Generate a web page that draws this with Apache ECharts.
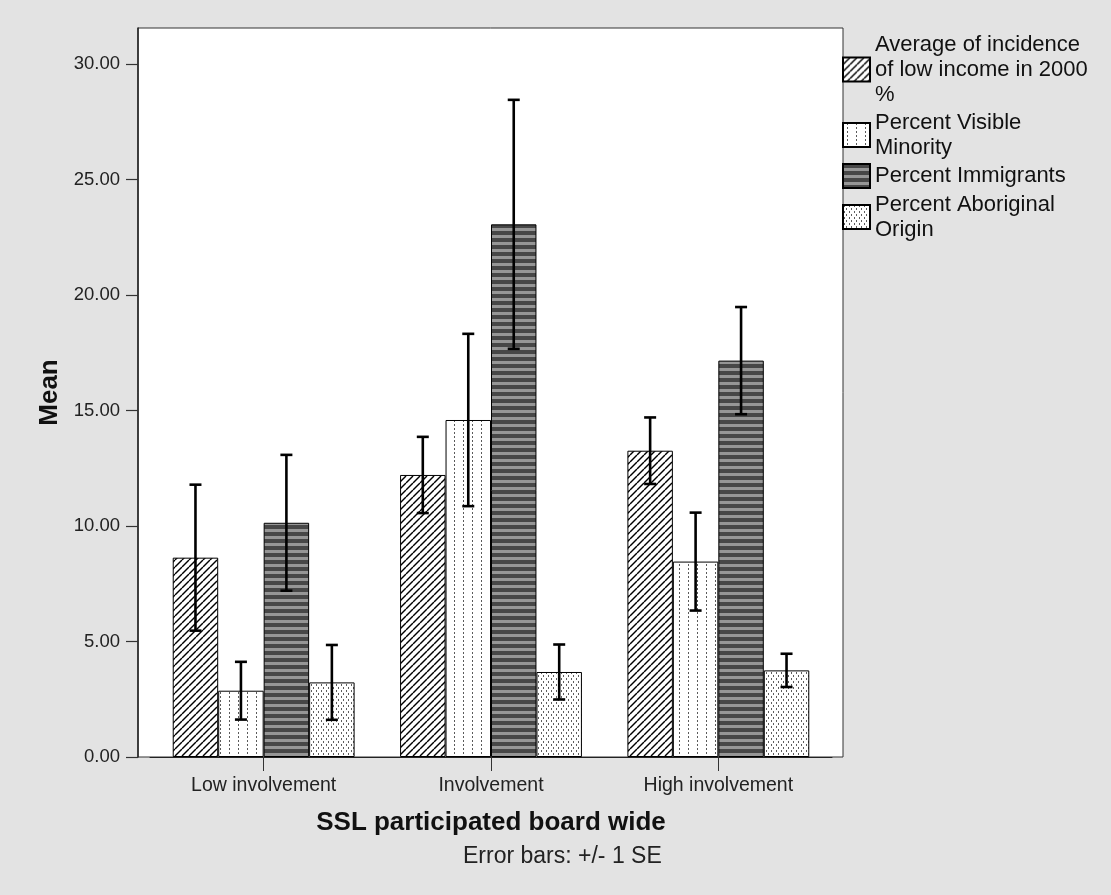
<!DOCTYPE html>
<html>
<head>
<meta charset="utf-8">
<script src="https://cdn.jsdelivr.net/npm/echarts@6/dist/echarts.min.js"></script>
<style>
html, body { margin: 0; padding: 0; background: #e3e3e3; }
#main { width: 1111px; height: 895px; }
</style>
</head>
<body>
<div id="main"></div>
<script>
var categories = ['Low involvement', 'Involvement', 'High involvement'];
var seriesNames = ['Average of incidence of low income in 2000 %', 'Percent Visible Minority', 'Percent Immigrants', 'Percent Aboriginal Origin'];
var legendLabels = ['Average of incidence\nof low income in 2000\n%', 'Percent Visible\nMinority', 'Percent Immigrants', 'Percent Aboriginal\nOrigin'];

var lowIncomeMean = [8.63, 12.21, 13.26];
var lowIncomeSE = [3.16, 1.65, 1.44];
var visibleMinorityMean = [2.87, 14.59, 8.46];
var visibleMinoritySE = [1.25, 3.73, 2.12];
var immigrantsMean = [10.14, 23.06, 17.16];
var immigrantsSE = [2.94, 5.39, 2.32];
var aboriginalMean = [3.23, 3.68, 3.75];
var aboriginalSE = [1.62, 1.19, 0.72];

var yTicks = [0, 5, 10, 15, 20, 25, 30];

var FONT = "'Liberation Sans', Arial, sans-serif";

// fill patterns like the spss ones
function makeTile(w, h, draw) {
	var c = document.createElement('canvas');
	c.width = w;
	c.height = h;
	var ctx = c.getContext('2d');
	ctx.fillStyle = '#fff';
	ctx.fillRect(0, 0, w, h);
	draw(ctx);
	return { image: c, repeat: 'repeat' };
}
var hatch = makeTile(7, 7, function (ctx) {
	ctx.strokeStyle = '#000';
	ctx.lineWidth = 1.4;
	for (var k = -7; k <= 7; k += 7) {
		ctx.beginPath();
		ctx.moveTo(k, 7);
		ctx.lineTo(k + 7, 0);
		ctx.stroke();
	}
});
var dashes = makeTile(9, 4, function (ctx) {
	ctx.fillStyle = '#5a5a5a';
	ctx.fillRect(4, 0, 1, 2);
});
var stripes = makeTile(4, 7, function (ctx) {
	ctx.fillStyle = '#474747';
	ctx.fillRect(0, 0, 4, 4);
	ctx.fillStyle = '#969696';
	ctx.fillRect(0, 4, 4, 3);
});
var dots = makeTile(5, 6, function (ctx) {
	ctx.fillStyle = '#5e5e5e';
	ctx.fillRect(1, 0, 1, 2);
	ctx.fillRect(3, 3, 1, 2);
});

var means = [lowIncomeMean, visibleMinorityMean, immigrantsMean, aboriginalMean];
var ses = [lowIncomeSE, visibleMinoritySE, immigrantsSE, aboriginalSE];
var fills = [hatch, dashes, stripes, dots];

var errorData = [];
for (var s = 0; s < means.length; s++) {
	for (var c = 0; c < categories.length; c++) {
		errorData.push([c, means[s][c], ses[s][c], s]);
	}
}

var series = [];
for (var i = 0; i < seriesNames.length; i++) {
	series.push({
		name: seriesNames[i],
		type: 'bar',
		xAxisIndex: 1,
		yAxisIndex: 1,
		barGap: '0%',
		barCategoryGap: '20%',
		data: means[i],
		itemStyle: {
			color: fills[i],
			borderColor: '#000',
			borderWidth: 1
		}
	});
}

series.push({
	type: 'custom',
	xAxisIndex: 1,
	yAxisIndex: 1,
	z: 5,
	encode: { x: 0, y: 1 },
	data: errorData,
	renderItem: function (params, api) {
		var c = api.value(0), mean = api.value(1), se = api.value(2), s = api.value(3);
		var band = api.size([1, 0])[0];
		var barW = band * 0.8 / 4;
		var top = api.coord([c, mean + se]);
		var bot = api.coord([c, mean - se]);
		var x = top[0] + (s - 1.5) * barW;
		var cap = 6;
		var st = { stroke: '#000', lineWidth: 2.6 };
		return {
			type: 'group',
			children: [
				{ type: 'line', shape: { x1: x, y1: top[1], x2: x, y2: bot[1] }, style: st },
				{ type: 'line', shape: { x1: x - cap, y1: top[1], x2: x + cap, y2: top[1] }, style: st },
				{ type: 'line', shape: { x1: x - cap, y1: bot[1], x2: x + cap, y2: bot[1] }, style: st }
			]
		};
	}
});

var myChart = echarts.init(document.getElementById('main'));
var option = {
	animation: false,
	backgroundColor: '#e3e3e3',
	textStyle: { fontFamily: FONT },
	title: {
		text: 'Error bars: +/- 1 SE',
		left: 463,
		top: 845,
		padding: 0,
		textStyle: { fontFamily: FONT, fontSize: 23, fontWeight: 'normal', color: '#222' }
	},
	legend: {
		orient: 'vertical',
		left: 842,
		top: 32,
		padding: 0,
		itemGap: 3,
		itemWidth: 27,
		itemHeight: 24,
		icon: 'rect',
		data: seriesNames,
		formatter: function (name) {
			return legendLabels[seriesNames.indexOf(name)];
		},
		textStyle: { fontFamily: FONT, fontSize: 22, lineHeight: 25, color: '#111' }
	},
	grid: [
		{ left: 138, right: 268, top: 28, bottom: 138, show: true, backgroundColor: '#fff', borderColor: '#333', borderWidth: 1, outerBoundsMode: 'none' },
		{ left: 150, right: 279, top: 28, bottom: 138, outerBoundsMode: 'none' }
	],
	xAxis: [
		{ gridIndex: 0, type: 'value', min: 0, max: 1, show: false },
		{
			gridIndex: 1,
			type: 'category',
			data: categories,
			axisLine: { show: true, lineStyle: { color: '#222', width: 1 } },
			axisTick: { show: true, alignWithLabel: true, length: 14, lineStyle: { color: '#333' } },
			axisLabel: { margin: 19, fontFamily: FONT, fontSize: 19.5, color: '#222' },
			name: 'SSL participated board wide',
			nameLocation: 'middle',
			nameGap: 53,
			nameTextStyle: { fontFamily: FONT, fontSize: 26, fontWeight: 'bold', color: '#111' }
		}
	],
	yAxis: [
		{
			gridIndex: 0,
			type: 'value',
			min: 0,
			max: 31.56,
			splitLine: { show: false },
			axisLine: { show: true, lineStyle: { color: '#222', width: 1.5 } },
			axisTick: { show: true, length: 12, customValues: yTicks, lineStyle: { color: '#333', width: 1.2 } },
			axisLabel: {
				customValues: yTicks,
				margin: 18,
				fontFamily: FONT,
				fontSize: 18.5,
				color: '#222',
				formatter: function (v) { return v.toFixed(2); }
			},
			name: 'Mean',
			nameLocation: 'middle',
			nameGap: 73,
			nameTextStyle: { fontFamily: FONT, fontSize: 26, fontWeight: 'bold', color: '#111' }
		},
		{ gridIndex: 1, type: 'value', min: 0, max: 31.56, show: false }
	],
	series: series
};
myChart.setOption(option);
</script>
</body>
</html>
